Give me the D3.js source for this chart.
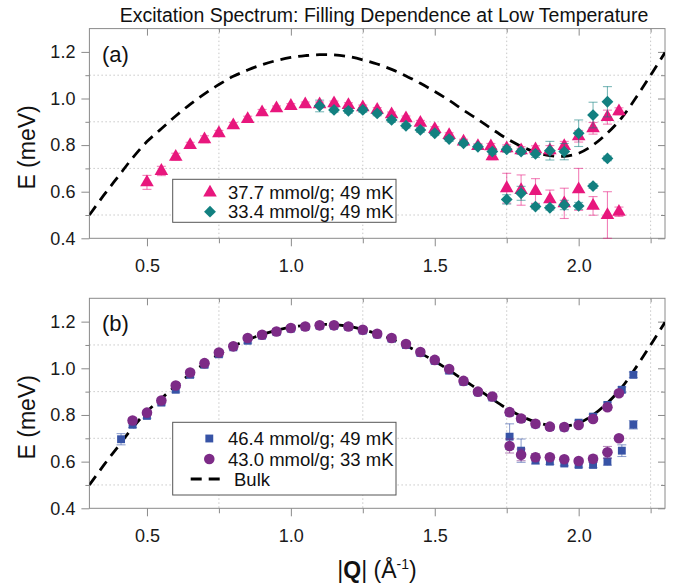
<!DOCTYPE html>
<html>
<head>
<meta charset="utf-8">
<script src="https://cdn.jsdelivr.net/npm/d3@7"></script>
<style>
  body { margin: 0; background: #fff; }
  svg { font-family: "Liberation Sans", Arial, Helvetica, sans-serif; }
</style>
</head>
<body>
<svg id="chart" width="674" height="585"></svg>
<script>
// ---- tick values ----
const xMajorTicks = [0.5, 1.0, 1.5, 2.0];
const xMinorTicks = [0.75, 1.25, 1.75, 2.25];
const yMajorTicks = [0.4, 0.6, 0.8, 1.0, 1.2];
const yMinorTicks = [0.5, 0.7, 0.9, 1.1];

// ---- bulk superfluid dispersion (Q in 1/Å, E in meV) ----
const bulkQ = [0.30, 0.35, 0.40, 0.45, 0.50, 0.55, 0.60, 0.65, 0.70, 0.75, 0.80, 0.85, 0.90, 0.95,
               1.00, 1.05, 1.10, 1.15, 1.20, 1.25, 1.30, 1.35, 1.40, 1.45, 1.50, 1.55, 1.60, 1.65,
               1.70, 1.75, 1.80, 1.85, 1.90, 1.95, 2.00, 2.05, 2.10, 2.15, 2.20, 2.25, 2.30];
const bulkE = [0.500, 0.585, 0.665, 0.745, 0.815, 0.870, 0.925, 0.975, 1.020, 1.060, 1.095, 1.122, 1.145, 1.163,
               1.176, 1.184, 1.188, 1.187, 1.180, 1.166, 1.148, 1.125, 1.097, 1.065, 1.030, 0.992, 0.950, 0.910,
               0.868, 0.828, 0.795, 0.770, 0.755, 0.752, 0.765, 0.800, 0.852, 0.918, 1.005, 1.100, 1.197];

// ---- panel (a): 37.7 mmol/g, 49 mK ----
const a377Q = [0.50, 0.55, 0.60, 0.65, 0.70, 0.75, 0.80, 0.85, 0.90, 0.95, 1.00, 1.05, 1.10, 1.15, 1.20,
               1.25, 1.30, 1.35, 1.40, 1.45, 1.50, 1.55, 1.60, 1.65, 1.695, 1.70, 1.75, 1.80, 1.85, 1.90,
               1.95, 2.00, 2.05, 2.10, 2.14,
               1.75, 1.80, 1.85, 1.90, 1.95, 2.00, 2.05, 2.10, 2.14];
const a377E = [0.640, 0.689, 0.750, 0.800, 0.825, 0.851, 0.885, 0.912, 0.941, 0.958, 0.968, 0.975, 0.975, 0.979, 0.972,
               0.962, 0.951, 0.932, 0.915, 0.896, 0.869, 0.843, 0.815, 0.796, 0.795, 0.752, 0.786, 0.778, 0.782, 0.778,
               0.796, 0.838, 0.872, 0.920, 0.945,
               0.615, 0.607, 0.603, 0.567, 0.550, 0.610, 0.539, 0.500, 0.514];
const a377Err = [0.030, 0.020, 0.015, 0.012, 0.015, 0.012, 0.012, 0.012, 0.012, 0.010, 0.010, 0.010, 0.010, 0.010, 0.010,
                 0.010, 0.010, 0.010, 0.010, 0.010, 0.010, 0.010, 0.010, 0.010, 0.012, 0.015, 0.015, 0.015, 0.015, 0.020,
                 0.020, 0.025, 0.025, 0.030, 0.015,
                 0.064, 0.065, 0.053, 0.040, 0.065, 0.090, 0.040, 0.100, 0.020];

// ---- panel (a): 33.4 mmol/g, 49 mK ----
const a334Q = [1.10, 1.15, 1.20, 1.25, 1.30, 1.35, 1.40, 1.45, 1.50, 1.55, 1.60, 1.65, 1.70, 1.75, 1.80,
               1.85, 1.90, 1.95, 2.00, 2.05, 2.10,
               1.75, 1.80, 1.85, 1.90, 1.95, 2.00, 2.05, 2.10];
const a334E = [0.968, 0.951, 0.947, 0.951, 0.936, 0.908, 0.883, 0.865, 0.851, 0.826, 0.808, 0.793, 0.772, 0.782, 0.772,
               0.762, 0.776, 0.772, 0.851, 0.929, 0.986,
               0.567, 0.593, 0.536, 0.531, 0.543, 0.539, 0.624, 0.743];
const a334Err = [0.025, 0.010, 0.010, 0.010, 0.010, 0.010, 0.010, 0.010, 0.010, 0.010, 0.010, 0.010, 0.012, 0.012, 0.012,
                 0.015, 0.040, 0.035, 0.057, 0.055, 0.065,
                 0.020, 0.030, 0.010, 0.010, 0.020, 0.015, 0.010, 0.010];

// ---- panel (b): 46.4 mmol/g, 49 mK ----
const b464Q = [0.41, 0.45, 0.50, 0.55, 0.60, 0.65, 0.70, 0.75, 0.80, 0.85, 0.90, 0.95, 1.00, 1.05, 1.10,
               1.15, 1.20, 1.25, 1.30, 1.35, 1.40, 1.45, 1.50, 1.55, 1.60, 1.65, 1.70, 1.76, 1.80, 1.85,
               1.90, 1.95, 2.00, 2.05, 2.10, 2.15, 2.19,
               1.76, 1.80, 1.85, 1.90, 1.95, 2.00, 2.05, 2.10, 2.15, 2.19];
const b464E = [0.696, 0.758, 0.796, 0.853, 0.908, 0.972, 1.015, 1.060, 1.090, 1.118, 1.140, 1.155, 1.170, 1.177, 1.182,
               1.182, 1.177, 1.162, 1.145, 1.127, 1.100, 1.066, 1.032, 0.990, 0.942, 0.897, 0.875, 0.810, 0.783, 0.760,
               0.748, 0.746, 0.767, 0.793, 0.843, 0.908, 0.972,
               0.707, 0.647, 0.605, 0.600, 0.592, 0.586, 0.586, 0.600, 0.647, 0.758];
const b464Err = [0.024, 0.012, 0.010, 0.010, 0.010, 0.010, 0.010, 0.010, 0.010, 0.010, 0.010, 0.010, 0.010, 0.010, 0.010,
                 0.010, 0.010, 0.010, 0.010, 0.010, 0.010, 0.010, 0.010, 0.010, 0.010, 0.010, 0.010, 0.012, 0.012, 0.010,
                 0.010, 0.010, 0.010, 0.010, 0.012, 0.012, 0.012,
                 0.055, 0.050, 0.015, 0.012, 0.010, 0.010, 0.012, 0.015, 0.025, 0.018];

// ---- panel (b): 43.0 mmol/g, 33 mK ----
const b430Q = [0.45, 0.50, 0.55, 0.60, 0.65, 0.70, 0.75, 0.80, 0.85, 0.90, 0.95, 1.00, 1.05, 1.10, 1.15,
               1.20, 1.25, 1.30, 1.35, 1.40, 1.45, 1.50, 1.55, 1.60, 1.65, 1.70, 1.76, 1.80, 1.85, 1.90,
               1.95, 2.00, 2.05, 2.10, 2.14,
               1.76, 1.80, 1.85, 1.90, 1.95, 2.00, 2.05, 2.10, 2.14];
const b430E = [0.776, 0.810, 0.862, 0.926, 0.982, 1.022, 1.068, 1.094, 1.130, 1.144, 1.158, 1.173, 1.179, 1.184, 1.184,
               1.179, 1.165, 1.148, 1.130, 1.104, 1.070, 1.036, 0.997, 0.946, 0.900, 0.879, 0.812, 0.785, 0.762, 0.750,
               0.748, 0.757, 0.783, 0.833, 0.893,
               0.667, 0.629, 0.619, 0.619, 0.610, 0.603, 0.612, 0.640, 0.700];
const b430Err = [0.012, 0.010, 0.010, 0.010, 0.010, 0.010, 0.010, 0.010, 0.010, 0.010, 0.010, 0.010, 0.010, 0.010, 0.010,
                 0.010, 0.010, 0.010, 0.010, 0.010, 0.010, 0.010, 0.010, 0.010, 0.010, 0.010, 0.012, 0.012, 0.010,
                 0.010, 0.010, 0.010, 0.010, 0.012, 0.012,
                 0.030, 0.025, 0.015, 0.012, 0.010, 0.010, 0.015, 0.025, 0.010];

// ---- labels ----
const titleText = "Excitation Spectrum: Filling Dependence at Low Temperature";
const legendA = ["37.7 mmol/g; 49 mK", "33.4 mmol/g; 49 mK"];
const legendB = ["46.4 mmol/g; 49 mK", "43.0 mmol/g; 33 mK", "Bulk"];

// ---- colours ----
const cPink = "#e8177d", cTeal = "#128080", cBlue = "#3753a6", cPurple = "#7d2b87";
const axisGrey = "#8a8a8a";

// marker areas (px^2)
const sizeTri = 80, sizeDia = 70, sizeSq = 62, sizeCirc = 88;

const svg = d3.select("#chart");
const xLeft = 89.4, xRight = 665;
const x = d3.scaleLinear().domain([0.3, 2.3]).range([xLeft, xRight]);

const panels = [
  { top: 28.6, bottom: 238.3, tag: "(a)" },
  { top: 298.3, bottom: 508.3, tag: "(b)" }
];
panels.forEach(p => { p.y = d3.scaleLinear().domain([0.4, 1.3]).range([p.bottom, p.top]); });

const toPts = (qs, es, errs) => qs.map((q, i) => ({ q, e: es[i], err: errs ? errs[i] : 0 }));

svg.append("text").attr("x", 384).attr("y", 22).attr("text-anchor", "middle")
  .attr("font-size", 19.5).attr("fill", "#111").text(titleText);

function drawFrame(p, idx) {
  const g = svg.append("g");
  const y = p.y;
  const clipId = "clip" + idx;
  svg.append("clipPath").attr("id", clipId).append("rect")
    .attr("x", xLeft).attr("y", p.top).attr("width", xRight - xLeft).attr("height", p.bottom - p.top);

  // dotted grid on the minor ticks
  g.selectAll(".gh").data(yMinorTicks).join("line")
    .attr("x1", xLeft).attr("x2", xRight).attr("y1", d => y(d)).attr("y2", d => y(d))
    .attr("stroke", "#c8c8c8").attr("stroke-dasharray", "1.5,2.5").attr("stroke-width", 1);
  g.selectAll(".gv").data(xMinorTicks).join("line")
    .attr("x1", d => x(d)).attr("x2", d => x(d)).attr("y1", p.top).attr("y2", p.bottom)
    .attr("stroke", "#c8c8c8").attr("stroke-dasharray", "1.5,2.5").attr("stroke-width", 1);

  const styleAxis = sel => {
    sel.selectAll(".domain").remove();
    sel.selectAll("line").attr("stroke", axisGrey);
    sel.selectAll("text").attr("fill", "#1a1a1a").attr("font-size", 18)
      .attr("font-family", '"Liberation Sans", Arial, sans-serif');
  };

  // bottom axis, labelled
  g.append("g").attr("transform", `translate(0,${p.bottom})`)
    .call(d3.axisBottom(x).tickValues(xMajorTicks).tickSize(8).tickPadding(13).tickFormat(d3.format(".1f")))
    .call(styleAxis);
  g.append("g").attr("transform", `translate(0,${p.bottom})`)
    .call(d3.axisBottom(x).tickValues(xMinorTicks).tickSize(5).tickFormat(""))
    .call(styleAxis);
  // top axis, ticks inside
  g.append("g").attr("transform", `translate(0,${p.top})`)
    .call(d3.axisTop(x).tickValues(xMajorTicks).tickSize(-7).tickFormat(""))
    .call(styleAxis);
  g.append("g").attr("transform", `translate(0,${p.top})`)
    .call(d3.axisTop(x).tickValues(xMinorTicks).tickSize(-4).tickFormat(""))
    .call(styleAxis);
  // left axis, labelled
  g.append("g").attr("transform", `translate(${xLeft},0)`)
    .call(d3.axisLeft(y).tickValues(yMajorTicks).tickSize(8).tickPadding(6).tickFormat(d3.format(".1f")))
    .call(styleAxis);
  g.append("g").attr("transform", `translate(${xLeft},0)`)
    .call(d3.axisLeft(y).tickValues(yMinorTicks).tickSize(4).tickFormat(""))
    .call(styleAxis);
  // right axis, ticks inside
  g.append("g").attr("transform", `translate(${xRight},0)`)
    .call(d3.axisRight(y).tickValues(yMajorTicks).tickSize(-7).tickFormat(""))
    .call(styleAxis);
  g.append("g").attr("transform", `translate(${xRight},0)`)
    .call(d3.axisRight(y).tickValues(yMinorTicks).tickSize(-4).tickFormat(""))
    .call(styleAxis);

  g.append("rect").attr("x", xLeft).attr("y", p.top).attr("width", xRight - xLeft).attr("height", p.bottom - p.top)
    .attr("fill", "none").attr("stroke", axisGrey).attr("stroke-width", 1);

  // axis title
  const mid = (p.top + p.bottom) / 2 + 14;
  svg.append("text").attr("transform", `translate(35,${mid}) rotate(-90)`).attr("text-anchor", "middle")
    .attr("font-size", 23).attr("fill", "#111").text("E (meV)");

  svg.append("text").attr("x", 102).attr("y", p.top + 33).attr("font-size", 22).attr("fill", "#111").text(p.tag);
  return clipId;
}

function drawBulk(p, clipId) {
  const line = d3.line().x(d => x(d.q)).y(d => p.y(d.e)).curve(d3.curveCatmullRom.alpha(0.5));
  svg.append("path").datum(toPts(bulkQ, bulkE)).attr("d", line).attr("clip-path", `url(#${clipId})`)
    .attr("fill", "none").attr("stroke", "#000").attr("stroke-width", 2.8).attr("stroke-dasharray", "11,7");
}

function drawSeries(p, pts, color, symbol, size, rotate) {
  const g = svg.append("g");
  const y = p.y;
  const cap = 4.5;
  const eb = g.append("g").attr("stroke", color).attr("stroke-opacity", 0.55).attr("stroke-width", 1.1);
  pts.forEach(d => {
    const cx = x(d.q), y1 = y(d.e - d.err), y2 = y(d.e + d.err);
    eb.append("line").attr("x1", cx).attr("x2", cx).attr("y1", y1).attr("y2", y2);
    eb.append("line").attr("x1", cx - cap).attr("x2", cx + cap).attr("y1", y1).attr("y2", y1);
    eb.append("line").attr("x1", cx - cap).attr("x2", cx + cap).attr("y1", y2).attr("y2", y2);
  });
  g.selectAll("path.m").data(pts).join("path")
    .attr("d", d3.symbol().type(symbol).size(size))
    .attr("transform", d => `translate(${x(d.q)},${y(d.e)})` + (rotate ? " rotate(45)" : ""))
    .attr("fill", color);
}

function legendBox(x0, y0, w, h) {
  svg.append("rect").attr("x", x0).attr("y", y0).attr("width", w).attr("height", h)
    .attr("fill", "#fff").attr("stroke", "#555").attr("stroke-width", 1);
}
function legendMarker(cx, cy, color, symbol, size, rotate) {
  svg.append("path").attr("d", d3.symbol().type(symbol).size(size))
    .attr("transform", `translate(${cx},${cy})` + (rotate ? " rotate(45)" : "")).attr("fill", color);
}
function legendText(tx, ty, s) {
  svg.append("text").attr("x", tx).attr("y", ty).attr("font-size", 18.5).attr("fill", "#111").text(s);
}

// ---- panel (a) ----
const clipA = drawFrame(panels[0], 0);
drawBulk(panels[0], clipA);
drawSeries(panels[0], toPts(a377Q, a377E, a377Err), cPink, d3.symbolTriangle, sizeTri, false);
drawSeries(panels[0], toPts(a334Q, a334E, a334Err), cTeal, d3.symbolSquare, sizeDia, true);

legendBox(172.7, 179.3, 223.3, 43);
legendMarker(210, 192.5, cPink, d3.symbolTriangle, sizeTri, false);
legendText(228, 198.5, legendA[0]);
legendMarker(210, 211.7, cTeal, d3.symbolSquare, sizeDia, true);
legendText(228, 218, legendA[1]);

// ---- panel (b) ----
const clipB = drawFrame(panels[1], 1);
drawBulk(panels[1], clipB);
drawSeries(panels[1], toPts(b464Q, b464E, b464Err), cBlue, d3.symbolSquare, sizeSq, false);
drawSeries(panels[1], toPts(b430Q, b430E, b430Err), cPurple, d3.symbolCircle, sizeCirc, false);

legendBox(172.7, 422.3, 223.3, 72.7);
legendMarker(209.3, 438.5, cBlue, d3.symbolSquare, sizeSq, false);
legendText(228, 445, legendB[0]);
legendMarker(209.3, 459, cPurple, d3.symbolCircle, sizeCirc, false);
legendText(228, 465.5, legendB[1]);
svg.append("line").attr("x1", 190.7).attr("x2", 222).attr("y1", 479).attr("y2", 479)
  .attr("stroke", "#000").attr("stroke-width", 2.8).attr("stroke-dasharray", "11,7");
legendText(234, 486, legendB[2]);

// ---- x axis title ----
const xt = svg.append("text").attr("x", 377).attr("y", 578).attr("text-anchor", "middle")
  .attr("font-size", 23).attr("fill", "#111");
xt.append("tspan").text("|");
xt.append("tspan").attr("font-weight", "bold").text("Q");
xt.append("tspan").text("| (Å");
xt.append("tspan").attr("font-size", 14).attr("dy", -9).text("-1");
xt.append("tspan").attr("dy", 9).text(")");
</script>
</body>
</html>
